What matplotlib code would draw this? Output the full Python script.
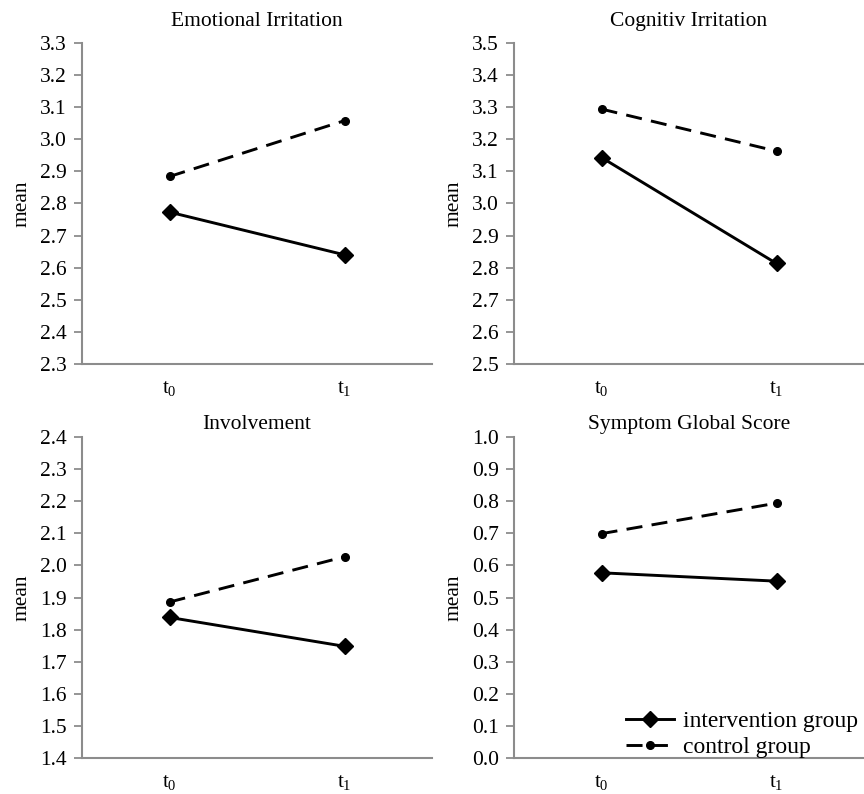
import matplotlib
matplotlib.use("Agg")
import matplotlib.pyplot as plt

plt.rcParams['font.family'] = ['Liberation Serif', 'DejaVu Serif']
plt.rcParams['mathtext.fontset'] = 'custom'
plt.rcParams['mathtext.rm'] = 'Liberation Serif'

# data
times = [r'$\mathregular{t_0}$', r'$\mathregular{t_1}$']
titles = ['Emotional Irritation', 'Cognitiv Irritation', 'Involvement', 'Symptom Global Score']
intervention = [[2.773, 2.640], [3.143, 2.813], [1.838, 1.748], [0.577, 0.551]]
control = [[2.884, 3.058], [3.294, 3.163], [1.886, 2.027], [0.699, 0.794]]
ylims = [(2.3, 3.3), (2.5, 3.5), (1.4, 2.4), (0.0, 1.0)]

gray = '#8c8c8c'
fig = plt.figure(figsize=(8.64, 7.94), dpi=100)
boxes = [(0.095, 0.5416, 0.405, 0.4043), (0.595, 0.5416, 0.405, 0.4043),
         (0.095, 0.0453, 0.405, 0.4043), (0.595, 0.0453, 0.405, 0.4043)]

for i in range(4):
    ax = fig.add_axes(boxes[i])
    x = [0, 1]
    ax.plot(x, intervention[i], color='black', lw=2.1, marker='D', markersize=8.5,
            label='intervention group')
    ax.plot(x, control[i], color='black', lw=2.1, ls=(0, (5.5, 3.2)), marker='o',
            markersize=5.5, label='control group')
    lo, hi = ylims[i]
    ax.set_ylim(lo, hi)
    ax.set_yticks([round(lo + 0.1 * k, 1) for k in range(11)])
    ax.set_yticklabels(['%.1f' % (lo + 0.1 * k) for k in range(11)])
    ax.set_xlim(-0.5, 1.5)
    ax.set_xticks(x)
    ax.set_xticklabels(times)
    ax.tick_params(axis='x', length=0, pad=11, labelsize=15)
    ax.tick_params(axis='y', length=6, width=1.3, color=gray, pad=5, labelsize=15.5)
    for s in ['top', 'right']:
        ax.spines[s].set_visible(False)
    for s in ['left', 'bottom']:
        ax.spines[s].set_color(gray)
        ax.spines[s].set_linewidth(1.5)
    ax.set_ylabel('mean', fontsize=15.5, labelpad=6)
    ax.set_title(titles[i], fontsize=15.5, pad=12 if i < 2 else 6)
    if i == 3:
        ax.legend(loc='lower right', bbox_to_anchor=(1.01, -0.03), frameon=False,
                  fontsize=17, handlelength=2.0, handletextpad=0.4,
                  labelspacing=0.2, borderaxespad=0)

fig.savefig('out.png', dpi=100)
